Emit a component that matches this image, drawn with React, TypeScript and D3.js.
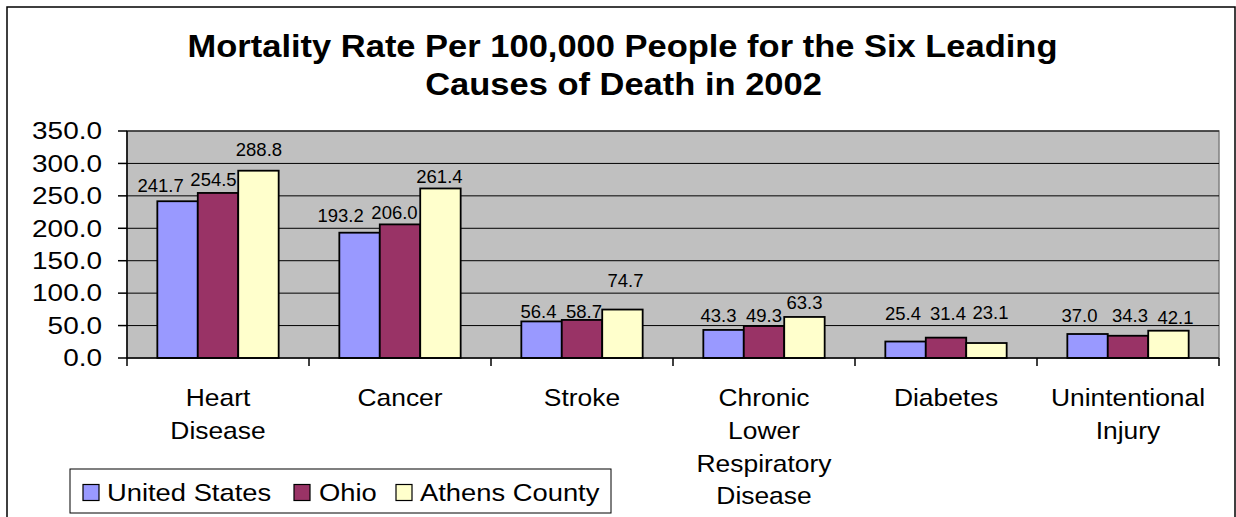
import React from "react";
import * as d3 from "d3";

// Mortality rate per 100,000 people, 2002
const categories: string[][] = [
  ["Heart", "Disease"],
  ["Cancer"],
  ["Stroke"],
  ["Chronic", "Lower", "Respiratory", "Disease"],
  ["Diabetes"],
  ["Unintentional", "Injury"],
];
const seriesNames = ["United States", "Ohio", "Athens County"];
const unitedStates = [241.7, 193.2, 56.4, 43.3, 25.4, 37.0];
const ohio = [254.5, 206.0, 58.7, 49.3, 31.4, 34.3];
const athensCounty = [288.8, 261.4, 74.7, 63.3, 23.1, 42.1];
const yTicks = [0, 50, 100, 150, 200, 250, 300, 350];

const seriesValues = [unitedStates, ohio, athensCounty];
const seriesColors = ["#9999FF", "#993366", "#FFFFCC"];

// Hand-placed data-label nudges [dx, dy] per series, per category
const labelNudge: number[][][] = [
  [[-17, -4], [-19, -6], [-3, 2], [-5, -3], [-2.5, -17], [-8, -7]],
  [[-4.5, -2], [-5.5, 0], [2, 3], [0, 1], [2, -13], [2, -9]],
  [[0.5, -10], [-1, 0], [3, -18], [0, -3], [4, -19], [7, -2]],
];

const W = 1236;
const H = 517;
const plot = { left: 127, right: 1219, top: 131, bottom: 358 };
const FONT = "'Liberation Sans', Arial, Helvetica, sans-serif";

function StretchText(props: {
  x: number;
  y: number;
  sx: number;
  size: number;
  anchor?: "start" | "middle" | "end";
  weight?: string | number;
  children: React.ReactNode;
}) {
  const { x, y, sx, size, anchor = "start", weight = "normal", children } = props;
  return (
    <text
      transform={`translate(${x},${y}) scale(${sx},1)`}
      textAnchor={anchor}
      fontFamily={FONT}
      fontSize={size}
      fontWeight={weight}
      fill="#000"
    >
      {children}
    </text>
  );
}

export default function App() {
  const x0 = d3
    .scaleBand<number>()
    .domain(d3.range(categories.length))
    .range([plot.left, plot.right])
    .paddingInner(0)
    .paddingOuter(0);
  const groupWidth = x0.bandwidth() * (3 / 4.5);
  const x1 = d3
    .scaleBand<number>()
    .domain(d3.range(seriesNames.length))
    .range([0, groupWidth])
    .padding(0);
  const y = d3.scaleLinear().domain([0, 350]).range([plot.bottom, plot.top]);

  const legendItems = [
    { sw: 83, tx: 107 },
    { sw: 294, tx: 319 },
    { sw: 396, tx: 420 },
  ];

  return (
    <svg
      width={W}
      height={H}
      style={{ position: "absolute", left: 0, top: 0, background: "#fff" }}
    >
      {/* outer chart frame */}
      <rect x={7} y={7} width={1228} height={530} fill="#fff" stroke="#000" strokeWidth={1.5} />

      {/* title */}
      <StretchText x={622.5} y={57.3} sx={1.095} size={31.5} anchor="middle" weight="bold">
        Mortality Rate Per 100,000 People for the Six Leading
      </StretchText>
      <StretchText x={623.5} y={95} sx={1.095} size={31.5} anchor="middle" weight="bold">
        Causes of Death in 2002
      </StretchText>

      {/* plot area */}
      <rect
        x={plot.left}
        y={plot.top}
        width={plot.right - plot.left}
        height={plot.bottom - plot.top}
        fill="#C0C0C0"
        stroke="#808080"
        strokeWidth={1.5}
      />
      {yTicks
        .filter((t) => t > 0)
        .map((t) => (
          <line
            key={`g${t}`}
            x1={plot.left}
            x2={plot.right}
            y1={y(t)}
            y2={y(t)}
            stroke="#000"
            strokeWidth={1}
          />
        ))}

      {/* bars */}
      {seriesValues.map((vals, s) =>
        vals.map((v, c) => {
          const bx = x0(c)! + (x0.bandwidth() - groupWidth) / 2 + x1(s)!;
          return (
            <rect
              key={`b${s}-${c}`}
              x={bx}
              y={y(v)}
              width={x1.bandwidth()}
              height={y(0) - y(v)}
              fill={seriesColors[s]}
              stroke="#000"
              strokeWidth={1.8}
            />
          );
        })
      )}

      {/* data labels */}
      {seriesValues.map((vals, s) =>
        vals.map((v, c) => {
          const cx =
            x0(c)! + (x0.bandwidth() - groupWidth) / 2 + x1(s)! + x1.bandwidth() / 2;
          const [dx, dy] = labelNudge[s][c];
          return (
            <text
              key={`l${s}-${c}`}
              x={cx + dx}
              y={y(v) - 5 + dy}
              textAnchor="middle"
              fontFamily={FONT}
              fontSize={18.5}
              fill="#000"
            >
              {v.toFixed(1)}
            </text>
          );
        })
      )}

      {/* axes */}
      <line x1={plot.left} x2={plot.left} y1={plot.top} y2={plot.bottom} stroke="#000" strokeWidth={1.5} />
      <line x1={plot.left} x2={plot.right} y1={plot.bottom} y2={plot.bottom} stroke="#000" strokeWidth={1.5} />
      {yTicks.map((t) => (
        <g key={`yt${t}`}>
          <line x1={plot.left - 9} x2={plot.left} y1={y(t)} y2={y(t)} stroke="#000" strokeWidth={1.5} />
          <StretchText x={102} y={y(t) + 8.3} sx={1.2} size={23.3} anchor="end">
            {t.toFixed(1)}
          </StretchText>
        </g>
      ))}
      {d3.range(categories.length + 1).map((i) => {
        const xx = plot.left + i * x0.bandwidth();
        return (
          <line
            key={`xt${i}`}
            x1={xx}
            x2={xx}
            y1={plot.bottom}
            y2={plot.bottom + 8}
            stroke="#000"
            strokeWidth={1.5}
          />
        );
      })}

      {/* category labels */}
      {categories.map((lines, c) =>
        lines.map((ln, k) => (
          <StretchText
            key={`c${c}-${k}`}
            x={x0(c)! + x0.bandwidth() / 2}
            y={406 + k * 32.8}
            sx={1.1}
            size={24}
            anchor="middle"
          >
            {ln}
          </StretchText>
        ))
      )}

      {/* legend */}
      <rect x={70} y={469} width={541} height={44} fill="#fff" stroke="#000" strokeWidth={1} />
      {seriesNames.map((name, s) => (
        <g key={`lg${s}`}>
          <rect
            x={legendItems[s].sw}
            y={484.5}
            width={16}
            height={16}
            fill={seriesColors[s]}
            stroke="#000"
            strokeWidth={1.2}
          />
          <StretchText x={legendItems[s].tx} y={500.5} sx={1.14} size={24}>
            {name}
          </StretchText>
        </g>
      ))}
    </svg>
  );
}
